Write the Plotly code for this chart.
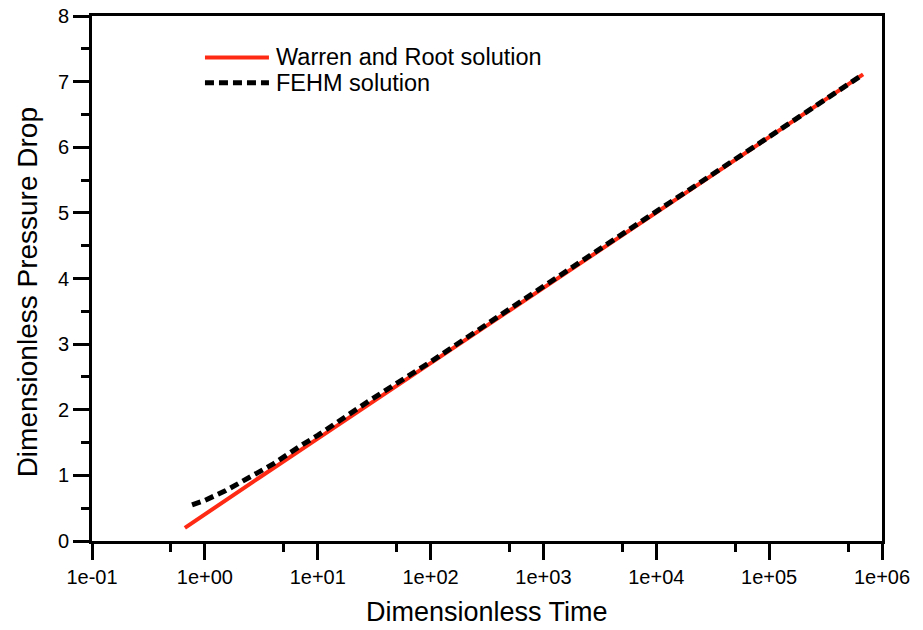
import plotly.graph_objects as go

# Dimensionless time / pressure-drop readings for the two solutions
wr_time = [0.665, 1.0, 3.0, 10.0, 100.0, 1.0e3, 1.0e4, 1.0e5, 6.8e5]
wr_pd = [0.20, 0.41, 0.96, 1.56, 2.71, 3.86, 5.01, 6.16, 7.11]

fehm_time = [0.77, 1.0, 1.5, 2.6, 4.0, 7.2, 10.0, 30.0, 100.0, 1.0e3, 1.0e4, 1.0e5, 6.8e5]
fehm_pd = [0.55, 0.62, 0.76, 0.98, 1.17, 1.46, 1.61, 2.16, 2.73, 3.88, 5.02, 6.17, 7.11]

x_major = [0.1, 1, 10, 100, 1e3, 1e4, 1e5, 1e6]
x_labels = ["1e-01", "1e+00", "1e+01", "1e+02", "1e+03", "1e+04", "1e+05", "1e+06"]
x_minor = [0.5, 5, 50, 500, 5e3, 5e4, 5e5]
y_major = [0, 1, 2, 3, 4, 5, 6, 7, 8]
y_minor = [0.5, 1.5, 2.5, 3.5, 4.5, 5.5, 6.5, 7.5]

series_names = ["Warren and Root solution", "FEHM solution"]
RED = "#ff2a14"
FONT = "Liberation Sans, Arial, sans-serif"
RED_LINE = dict(color=RED, width=4)
BLACK_LINE = dict(color="black", width=5, dash="9px,5px")

fig = go.Figure()
fig.add_trace(go.Scatter(x=wr_time, y=wr_pd, mode="lines", name=series_names[0],
                         line=RED_LINE))
fig.add_trace(go.Scatter(x=fehm_time, y=fehm_pd, mode="lines", name=series_names[1],
                         line=BLACK_LINE))

axis_common = dict(
    showgrid=False, zeroline=False, showline=True, linecolor="black", linewidth=3,
    mirror=True, ticks="outside", ticklen=16, tickwidth=3, tickcolor="black",
    tickfont=dict(family=FONT, size=20, color="black"), automargin=False,
)
minor_common = dict(tickmode="array", ticks="outside", ticklen=8,
                    tickwidth=3, tickcolor="black", showgrid=False)

fig.update_xaxes(
    type="log", range=[-1, 6], tickmode="array", tickvals=x_major, ticktext=x_labels,
    minor=dict(tickvals=x_minor, **minor_common),
    **axis_common,
)
fig.update_yaxes(
    range=[0, 8], tickmode="array", tickvals=y_major,
    minor=dict(tickvals=y_minor, **minor_common),
    **axis_common,
)

# Axis titles
fig.add_annotation(xref="paper", yref="paper", x=0.5, y=-0.135,
                   text="Dimensionless Time", showarrow=False,
                   xanchor="center", yanchor="middle",
                   font=dict(family=FONT, size=27, color="black"))
fig.add_annotation(xref="paper", yref="paper", x=-0.082, y=0.474,
                   text="Dimensionless Pressure Drop", showarrow=False, textangle=-90,
                   xanchor="center", yanchor="middle",
                   font=dict(family=FONT, size=28, color="black"))

# Legend drawn in paper coordinates so the line samples keep their long form
legend_rows = [
    (series_names[0], RED_LINE, 0.921),
    (series_names[1], BLACK_LINE, 0.873),
]
for label, line_style, yy in legend_rows:
    fig.add_shape(type="line", xref="paper", yref="paper",
                  x0=0.143, x1=0.224, y0=yy, y1=yy, line=line_style)
    fig.add_annotation(xref="paper", yref="paper", x=0.231, y=yy, text=label,
                       showarrow=False, xanchor="left", yanchor="middle",
                       font=dict(family=FONT, size=23.5, color="black"))

fig.update_layout(
    width=923, height=630, showlegend=False,
    margin=dict(l=92, r=41, t=16, b=89),
    paper_bgcolor="white", plot_bgcolor="white",
    font=dict(family=FONT, color="black"),
)

fig.write_html("out.html")
